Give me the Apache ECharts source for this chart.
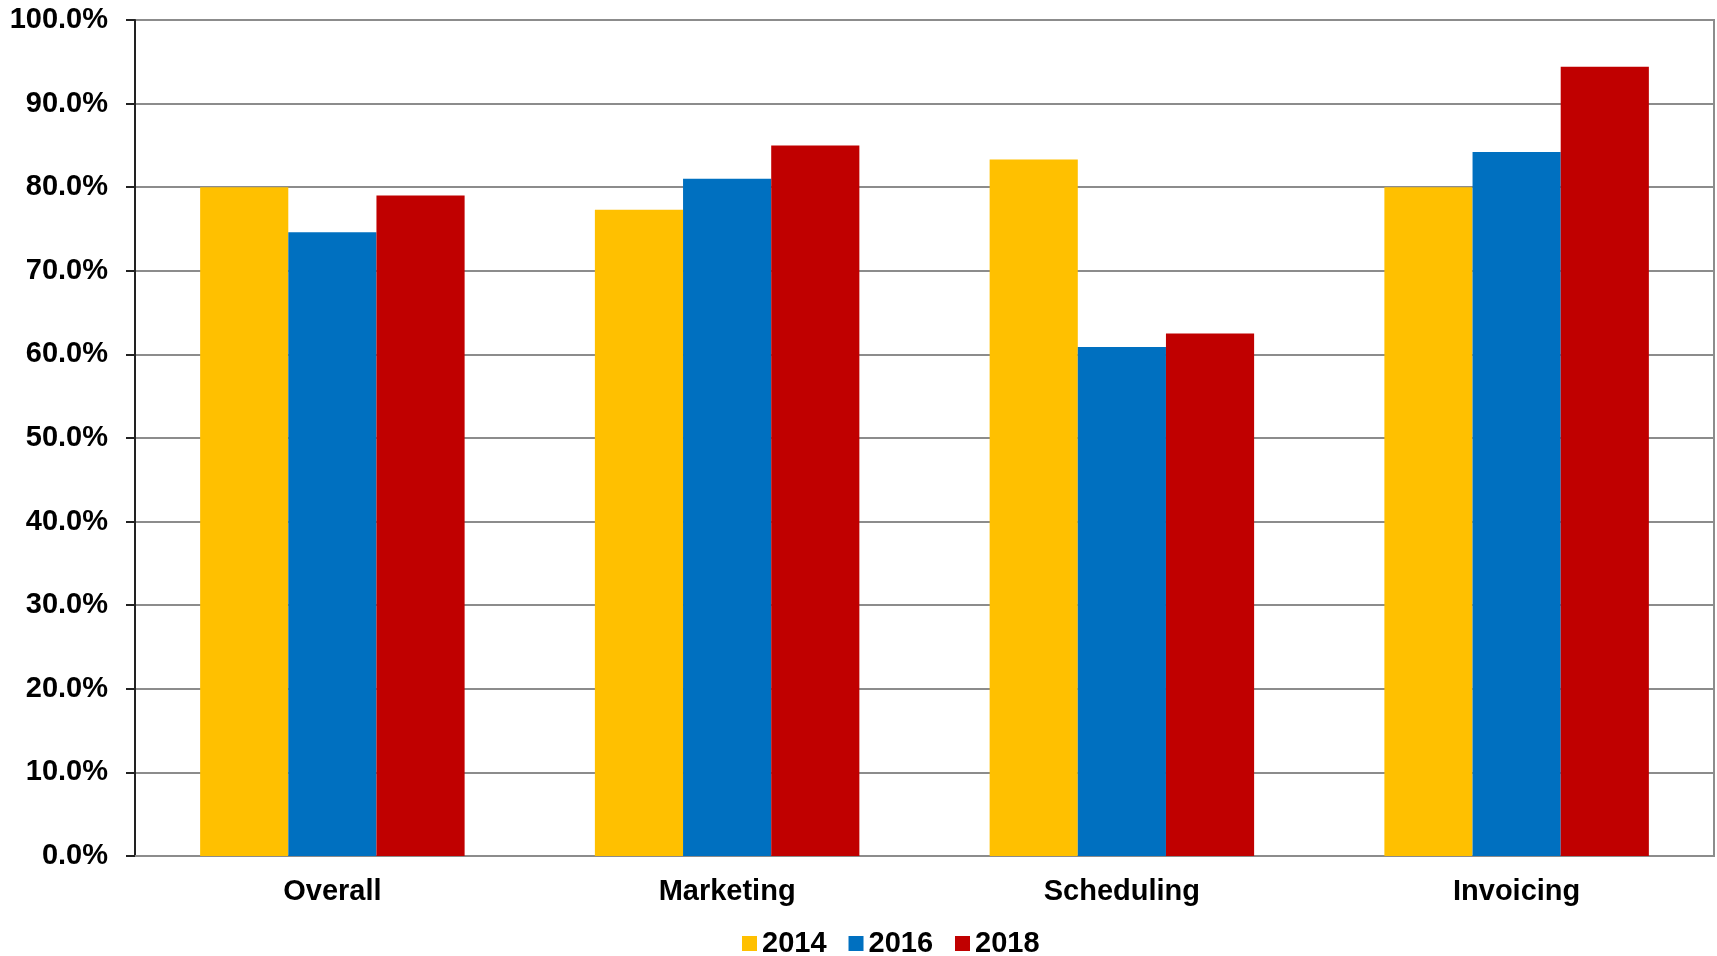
<!DOCTYPE html>
<html><head><meta charset="utf-8">
<script src="https://cdn.jsdelivr.net/npm/echarts@6/dist/echarts.min.js"></script>
<style>html,body{margin:0;padding:0;background:#fff}#c{width:1717px;height:956px}</style>
</head><body><div id="c"></div>
<script>
const categories = ['Overall', 'Marketing', 'Scheduling', 'Invoicing'];
const seriesNames = ['2014', '2016', '2018'];
const v2014 = [80.0, 77.3, 83.3, 80.0];
const v2016 = [74.6, 81.0, 60.9, 84.2];
const v2018 = [79.0, 85.0, 62.5, 94.4];
const colors = ['#FFC000', '#0070C0', '#C00000'];
const values = [v2014, v2016, v2018];

const chart = echarts.init(document.getElementById('c'));
const font = 'Liberation Sans, Arial, sans-serif';
chart.setOption({
  animation: false,
  grid: { left: 135, right: 3, top: 20, bottom: 100, show: true, borderColor: '#8c8c8c', borderWidth: 2 },
  legend: {
    left: 737, top: 924, itemWidth: 15, itemHeight: 15, itemGap: 22,
    icon: 'rect',
    textStyle: { fontFamily: font, fontWeight: 'bold', fontSize: 29, color: '#000' },
    data: seriesNames
  },
  xAxis: {
    type: 'category', data: categories,
    axisLine: { lineStyle: { color: '#8c8c8c', width: 2 } },
    axisTick: { show: false },
    axisLabel: { fontFamily: font, fontWeight: 'bold', fontSize: 29, color: '#000', margin: 21 }
  },
  yAxis: {
    type: 'value', min: 0, max: 100, interval: 10,
    axisLine: { show: true, lineStyle: { color: '#222', width: 2 } },
    axisTick: { show: true, length: 9, lineStyle: { color: '#222', width: 2 } },
    axisLabel: { fontFamily: font, fontWeight: 'bold', fontSize: 29, color: '#000', margin: 27,
      formatter: v => v.toFixed(1) + '%' },
    splitLine: { lineStyle: { color: '#8c8c8c', width: 2 } }
  },
  series: seriesNames.map((n, i) => ({
    name: n, type: 'bar', data: values[i],
    barGap: '0%', barCategoryGap: '33%',
    itemStyle: { color: colors[i] }
  }))
});
</script></body></html>
